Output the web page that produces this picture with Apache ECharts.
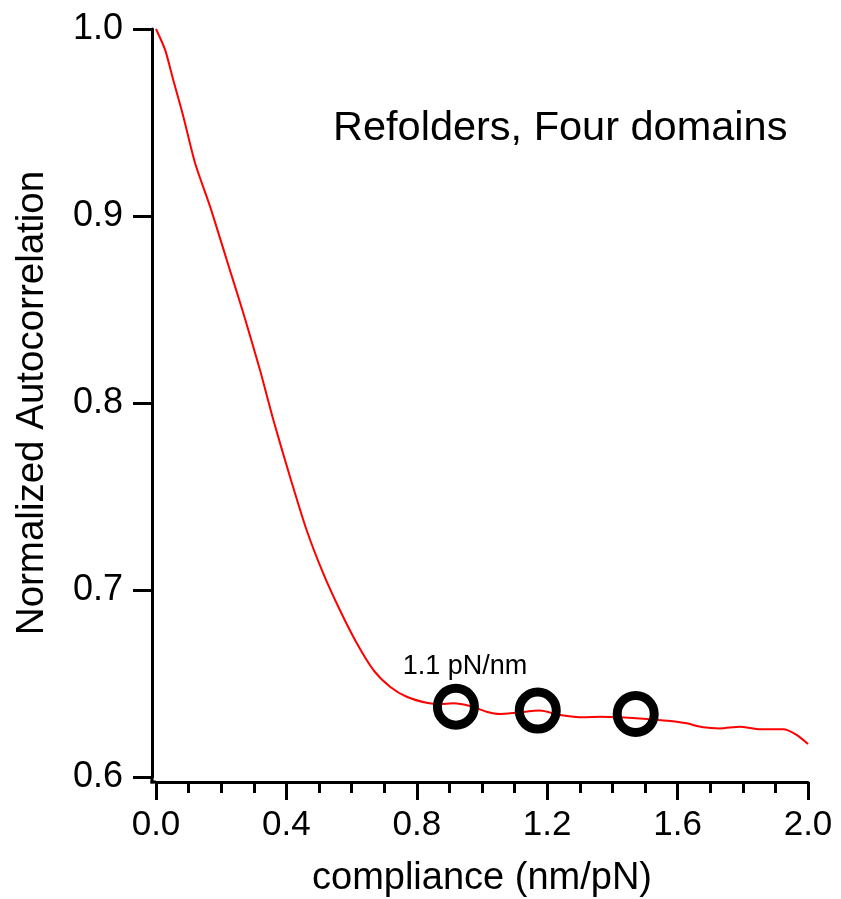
<!DOCTYPE html>
<html>
<head>
<meta charset="utf-8">
<script src="https://cdn.jsdelivr.net/npm/echarts@6/dist/echarts.min.js"></script>
<style>
  html, body { margin: 0; padding: 0; background: #fff; }
  #chart { width: 841px; height: 899px; }
</style>
</head>
<body>
<div id="chart"></div>
<script>
// Autocorrelation curve: compliance (nm/pN) vs normalized autocorrelation
const compliance = [0, 0.028, 0.053, 0.084, 0.120, 0.166, 0.217, 0.268, 0.319, 0.360,
  0.411, 0.462, 0.513, 0.564, 0.616, 0.667, 0.718, 0.769, 0.830, 0.871,
  0.912, 0.963, 1.014, 1.055, 1.106, 1.178, 1.239, 1.311, 1.362, 1.423,
  1.505, 1.597, 1.628, 1.679, 1.730, 1.791, 1.853, 1.924, 1.965, 2.0];
const autocorr = [1.000, 0.9888, 0.9727, 0.9531, 0.9282, 0.9050, 0.8765, 0.8480, 0.8176, 0.7909,
  0.7606, 0.7321, 0.7089, 0.6893, 0.6715, 0.6572, 0.6483, 0.6429, 0.6397, 0.6390,
  0.6394, 0.6380, 0.6349, 0.6337, 0.6344, 0.6355, 0.6332, 0.6319, 0.6322, 0.6319,
  0.6310, 0.6296, 0.6287, 0.6266, 0.6260, 0.6269, 0.6255, 0.6255, 0.6225, 0.6176];

// Highlighted compliance points (open circles)
const markerX = [0.920, 1.171, 1.4715];
const markerY = [0.6376, 0.6355, 0.6337];
const markerLabel = '1.1 pN/nm';

const xTicks = ['0.0', '0.4', '0.8', '1.2', '1.6', '2.0'];
const yTicks = ['0.6', '0.7', '0.8', '0.9', '1.0'];

const FONT = "'Liberation Sans', Arial, Helvetica, sans-serif";
const AXIS_W = 3;

const chart = echarts.init(document.getElementById('chart'), null, { renderer: 'canvas' });

const lineData = compliance.map((x, i) => [x, autocorr[i]]);
const markerData = markerX.map((x, i) => {
  const d = { value: [x, markerY[i]] };
  if (i === 0) {
    d.label = {
      show: true,
      formatter: markerLabel,
      position: 'top',
      distance: 4,
      offset: [9, 0],
      color: '#000',
      fontSize: 27,
      fontFamily: FONT
    };
  }
  return d;
});

chart.setOption({
  animation: false,
  backgroundColor: '#fff',
  title: {
    text: 'Refolders, Four domains',
    left: 328,
    top: 103,
    textStyle: { fontSize: 41.5, fontWeight: 'normal', color: '#000', fontFamily: FONT }
  },
  grid: { left: 156, right: 33, top: 29, bottom: 122, containLabel: false, outerBoundsMode: 'none' },
  xAxis: {
    type: 'value',
    min: 0,
    max: 2,
    interval: 0.4,
    offset: 5,
    name: 'compliance (nm/pN)',
    nameLocation: 'middle',
    nameGap: 78,
    nameTextStyle: { fontSize: 38, color: '#000', fontFamily: FONT },
    axisLine: { show: true, onZero: false, lineStyle: { color: '#000', width: AXIS_W } },
    axisTick: { show: true, inside: false, length: 18, lineStyle: { color: '#000', width: AXIS_W } },
    minorTick: { show: true, splitNumber: 4, length: 11, lineStyle: { color: '#000', width: AXIS_W } },
    axisLabel: {
      margin: 26,
      fontSize: 35,
      color: '#000',
      fontFamily: FONT,
      formatter: (v) => xTicks[Math.round(v / 0.4)] || ''
    },
    splitLine: { show: false },
    minorSplitLine: { show: false }
  },
  yAxis: {
    type: 'value',
    min: 0.6,
    max: 1.0,
    interval: 0.1,
    offset: 4,
    name: 'Normalized Autocorrelation',
    nameLocation: 'middle',
    nameGap: 100,
    nameRotate: 90,
    nameTextStyle: { fontSize: 38.5, color: '#000', fontFamily: FONT },
    axisLine: { show: true, onZero: false, lineStyle: { color: '#000', width: AXIS_W } },
    axisTick: { show: true, inside: false, length: 19, lineStyle: { color: '#000', width: AXIS_W } },
    axisLabel: {
      margin: 29,
      fontSize: 36,
      color: '#000',
      fontFamily: FONT,
      formatter: (v) => yTicks[Math.round((v - 0.6) / 0.1)] || ''
    },
    splitLine: { show: false }
  },
  series: [
    {
      type: 'line',
      data: lineData,
      smooth: 0.25,
      showSymbol: false,
      symbol: 'none',
      lineStyle: { color: '#ff0000', width: 2 },
      z: 2
    },
    {
      type: 'scatter',
      data: markerData,
      symbol: 'circle',
      symbolSize: 37,
      itemStyle: { color: 'rgba(0,0,0,0)', borderColor: '#000', borderWidth: 9, opacity: 1 },
      emphasis: { disabled: true },
      z: 3
    }
  ]
});

// Close the corner where the offset axis lines meet
const origin = chart.convertToPixel({ gridIndex: 0 }, [0, 0.6]);
const yAxisX = origin[0] - 4;
const xAxisY = origin[1] + 5;
chart.setOption({
  graphic: [
    {
      type: 'line',
      shape: { x1: yAxisX, y1: origin[1], x2: yAxisX, y2: xAxisY + AXIS_W / 2 },
      style: { stroke: '#000', lineWidth: AXIS_W }
    },
    {
      type: 'line',
      shape: { x1: yAxisX - AXIS_W / 2, y1: xAxisY, x2: origin[0], y2: xAxisY },
      style: { stroke: '#000', lineWidth: AXIS_W }
    }
  ]
});
</script>
</body>
</html>
